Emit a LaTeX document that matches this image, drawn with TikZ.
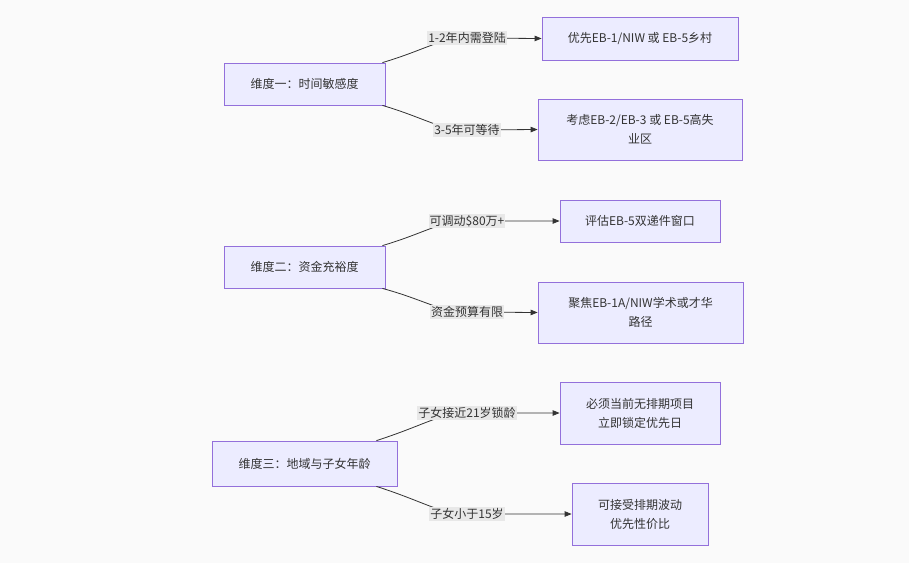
\documentclass[tikz,border=0pt]{standalone}
\usepackage{fontspec}
\setmainfont{Noto Sans CJK SC}
\usetikzlibrary{arrows.meta}
\definecolor{nodefill}{HTML}{ECECFF}
\definecolor{nodeborder}{HTML}{9370DB}
\definecolor{txt}{HTML}{333333}
\definecolor{lblbg}{HTML}{E8E8E8}
\definecolor{bgc}{HTML}{FAFAFA}
\begin{document}
\begin{tikzpicture}[x=1pt,y=-1pt,
  box/.style={draw=nodeborder, fill=nodefill, line width=0.8pt, text=txt, align=center, inner sep=0pt, font=\fontsize{12}{19}\selectfont},
  lbl/.style={fill=lblbg, text=txt, inner sep=1pt, font=\fontsize{12}{14}\selectfont},
  edge/.style={draw=txt, line width=0.8pt, -{Triangle[length=7pt,width=5.5pt]}}]
\fill[bgc] (0,0) rectangle (909,563);
\useasboundingbox (0,0) rectangle (909,563);
% group 1
\node[box, minimum width=161pt, minimum height=42pt] (A1) at (304.5,84) {维度一：时间敏感度};
\node[box, minimum width=196pt, minimum height=43pt] (B1) at (640,38.5) {优先EB-1/NIW 或 EB-5乡村};
\node[box, minimum width=204pt, minimum height=61pt] (C1) at (640,129.5) {考虑EB-2/EB-3 或 EB-5高失\\业区};
% group 2
\node[box, minimum width=161pt, minimum height=42pt] (A2) at (304.5,267) {维度二：资金充裕度};
\node[box, minimum width=160pt, minimum height=42pt] (B2) at (640,221) {评估EB-5双递件窗口};
\node[box, minimum width=205pt, minimum height=61pt] (C2) at (640.5,312.5) {聚焦EB-1A/NIW学术或才华\\路径};
% group 3
\node[box, minimum width=185pt, minimum height=45pt] (A3) at (304.5,463.5) {维度三：地域与子女年龄};
\node[box, minimum width=160pt, minimum height=62pt] (B3) at (640,413) {必须当前无排期项目\\立即锁定优先日};
\node[box, minimum width=136pt, minimum height=62pt] (C3) at (640,514) {可接受排期波动\\优先性价比};
% label positions
\coordinate (m1) at (467,38);
\coordinate (m2) at (467,130);
\coordinate (m3) at (467,221);
\coordinate (m4) at (467,312);
\coordinate (m5) at (467,413);
\coordinate (m6) at (467,514);
% edges
\draw[edge] ([xshift=-3pt]A1.north east) .. controls (425,50) and (440,38) .. (m1) -- (B1.west);
\draw[edge] ([xshift=-3pt]A1.south east) .. controls (425,118) and (440,130) .. (m2) -- (C1.west);
\draw[edge] ([xshift=-3pt]A2.north east) .. controls (425,233) and (440,221) .. (m3) -- (B2.west);
\draw[edge] ([xshift=-3pt]A2.south east) .. controls (425,300) and (440,312) .. (m4) -- (C2.west);
\draw[edge] ([xshift=-21pt]A3.north east) .. controls (425,425) and (440,413) .. (m5) -- (B3.west);
\draw[edge] ([xshift=-21pt]A3.south east) .. controls (425,502) and (440,514) .. (m6) -- (C3.west);
% labels
\node[lbl] (L1) at (m1) {1-2年内需登陆};
\node[lbl] (L2) at (m2) {3-5年可等待};
\node[lbl] (L3) at (m3) {可调动\$80万+};
\node[lbl] (L4) at (m4) {资金预算有限};
\node[lbl] (L5) at (m5) {子女接近21岁锁龄};
\node[lbl] (L6) at (m6) {子女小于15岁};
\end{tikzpicture}
\end{document}
